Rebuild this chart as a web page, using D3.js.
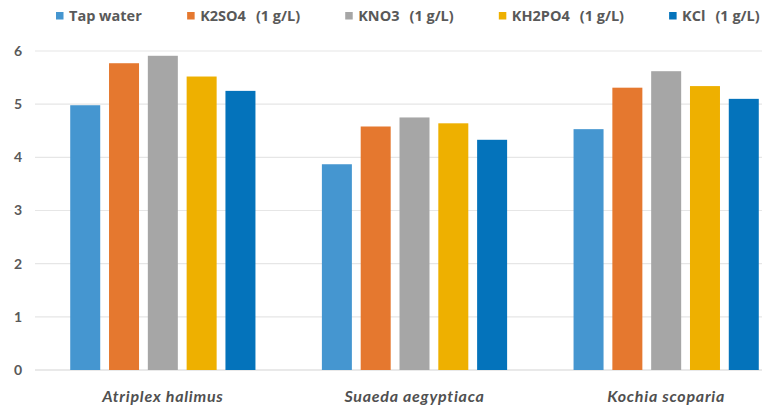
<!DOCTYPE html>
<html><head><meta charset="utf-8">
<script src="https://cdn.jsdelivr.net/npm/d3@7"></script>
<style>
html,body{margin:0;padding:0;background:#fff;}
svg{display:block;}
text{font-family:Lato,"Liberation Sans",Arial,sans-serif;}
</style></head>
<body>
<svg id="chart" width="762" height="405"></svg>
<script>
const categories = ["Atriplex halimus", "Suaeda aegyptiaca", "Kochia scoparia"];
const seriesNames = ["Tap water", "K2SO4  (1 g/L)", "KNO3  (1 g/L)", "KH2PO4  (1 g/L)", "KCl  (1 g/L)"];
const tapWater = [4.98, 3.87, 4.53];
const k2so4 = [5.77, 4.58, 5.31];
const kno3 = [5.91, 4.75, 5.62];
const kh2po4 = [5.52, 4.64, 5.34];
const kcl = [5.25, 4.33, 5.10];
const yTicks = [0, 1, 2, 3, 4, 5, 6];
const colors = ["#4596D0", "#E5782F", "#A6A6A6", "#EEB000", "#0473BB"];

const seriesValues = [tapWater, k2so4, kno3, kh2po4, kcl];
const svg = d3.select("#chart");

const y = d3.scaleLinear().domain([0, 6]).range([370, 51]);
const x0 = d3.scaleBand().domain(categories).range([37, 792]).paddingInner(0).paddingOuter(0);
const x1 = d3.scaleBand().domain(seriesNames).range([0, x0.bandwidth()]).paddingInner(0.227).paddingOuter(0.856);

// gridlines
svg.append("g").selectAll("line").data(yTicks).join("line")
  .attr("x1", 35).attr("x2", 762)
  .attr("y1", d => y(d)).attr("y2", d => y(d))
  .attr("stroke", d => d === 0 ? "#d4d4d4" : "#e6e6e6").attr("stroke-width", 1.2);

// y axis labels
const yAxis = d3.axisLeft(y).tickValues(yTicks).tickSize(0).tickPadding(0).tickFormat(d3.format("d"));
const ya = svg.append("g").attr("transform", "translate(22,0)").call(yAxis);
ya.select(".domain").remove();
ya.selectAll("text").attr("fill", "#595959").attr("font-size", 14).attr("font-weight", "bold")
  .style("font-family", "Lato,'Liberation Sans',Arial,sans-serif");

// bars
const groups = svg.append("g").selectAll("g").data(categories).join("g")
  .attr("transform", d => `translate(${x0(d)},0)`);
groups.selectAll("rect").data((c, ci) => seriesNames.map((s, si) => ({s, si, v: seriesValues[si][ci]})))
  .join("rect")
  .attr("x", d => x1(d.s)).attr("width", x1.bandwidth())
  .attr("y", d => y(d.v)).attr("height", d => y(0) - y(d.v))
  .attr("fill", d => colors[d.si]);

// x axis labels
const xAxis = d3.axisBottom(x0).tickSize(0).tickPadding(0);
const xa = svg.append("g").attr("transform", "translate(0,396)").call(xAxis);
xa.select(".domain").remove();
xa.selectAll("text").attr("fill", "#505050").attr("font-size", 16).attr("font-style", "italic")
  .attr("font-weight", "bold").attr("letter-spacing", 0.75).attr("dy", "0.35em")
  .style("font-family", "Lato,'Liberation Sans',Arial,sans-serif");

// legend
const legend = svg.append("g").attr("transform", "translate(56,16)");
let lx = 0;
seriesNames.forEach((name, i) => {
  const g = legend.append("g").attr("transform", `translate(${lx},0)`);
  g.append("rect").attr("x", 0).attr("y", -4).attr("width", 7.5).attr("height", 7.5).attr("fill", colors[i]);
  const parts = name.split("  ");
  const t = g.append("text").attr("x", 13).attr("y", 0).attr("dy", "0.33em")
    .attr("fill", "#595959").attr("font-size", 14.5).attr("font-weight", "bold")
    .style("font-family", "'Open Sans',Lato,sans-serif");
  t.append("tspan").text(parts[0]);
  if (parts[1]) t.append("tspan").attr("dx", 10).text(parts[1]);
  lx += 13 + t.node().getBBox().width + 45;
});
</script>
</body></html>
